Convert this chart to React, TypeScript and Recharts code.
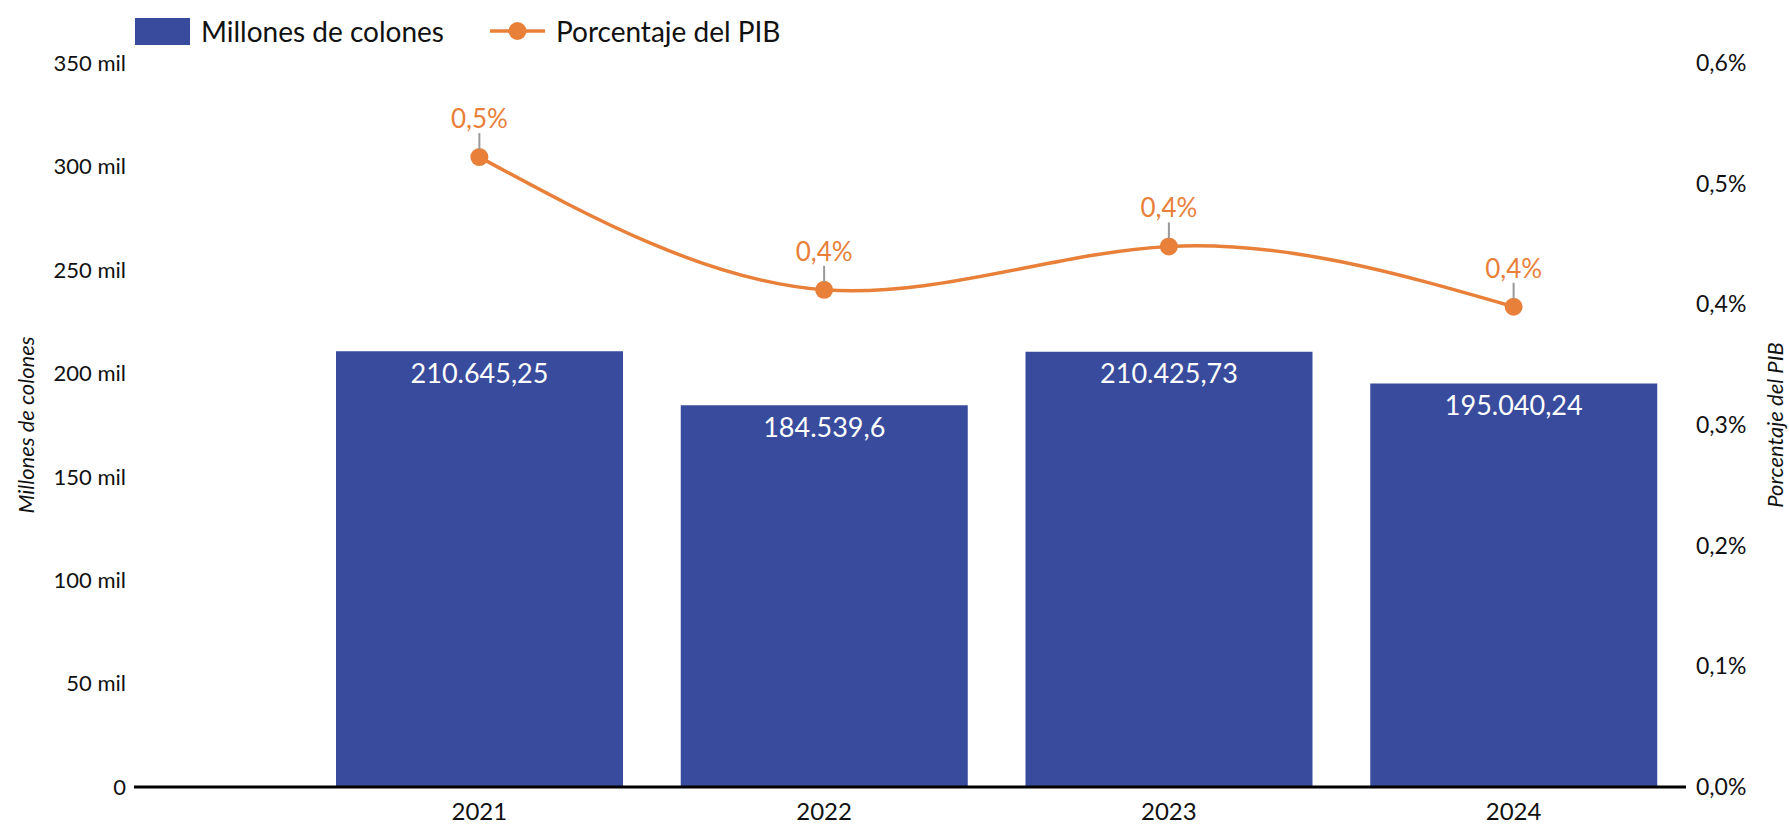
import React from "react";
import {
  ComposedChart,
  Bar,
  Line,
  XAxis,
  YAxis,
  LabelList,
} from "recharts";

const years = ["2021", "2022", "2023", "2024"];
const millones = [210645.25, 184539.6, 210425.73, 195040.24];
const millonesLabels = ["210.645,25", "184.539,6", "210.425,73", "195.040,24"];
const pib = [0.522, 0.412, 0.448, 0.398];
const pibLabels = ["0,5%", "0,4%", "0,4%", "0,4%"];
const leftTicks = [0, 50000, 100000, 150000, 200000, 250000, 300000, 350000];
const rightTicks = [0, 0.1, 0.2, 0.3, 0.4, 0.5, 0.6];

const BLUE = "#384B9C";
const ORANGE = "#E8803A";
const FONT = "Lato, 'Open Sans', sans-serif";

const data = years.map((year, i) => ({
  year,
  millones: millones[i],
  millonesLabel: millonesLabels[i],
  pib: pib[i],
  pibLabel: pibLabels[i],
}));

const fmtLeft = (v: number) => (v === 0 ? "0" : `${v / 1000} mil`);
const fmtRight = (v: number) => `${v.toFixed(1).replace(".", ",")}%`;

// white value text just inside the top of each bar
const BarValue = (props: any) => {
  const { x, y, width, value } = props;
  return (
    <text
      x={x + width / 2}
      y={y + 21}
      textAnchor="middle"
      dominantBaseline="central"
      fill="#fff"
      fontSize={27}
      fontFamily={FONT}
    >
      {value}
    </text>
  );
};

// orange label above the point with a small gray leader
const PointValue = (props: any) => {
  const { x, y, value } = props;
  return (
    <g>
      <line x1={x} x2={x} y1={y - 8} y2={y - 24} stroke="#999" strokeWidth={2} />
      <text
        x={x}
        y={y - 39}
        textAnchor="middle"
        dominantBaseline="central"
        fill={ORANGE}
        fontSize={26}
        fontFamily={FONT}
      >
        {value}
      </text>
    </g>
  );
};

// rotated axis titles
const AxisTitle = (props: any) => {
  const { viewBox, value, dx } = props;
  const cx = viewBox.x + dx;
  const cy = viewBox.y + viewBox.height / 2;
  return (
    <text
      x={cx}
      y={cy}
      transform={`rotate(-90 ${cx} ${cy})`}
      textAnchor="middle"
      dominantBaseline="central"
      fontStyle="italic"
      fontSize={22}
      fontFamily={FONT}
      fill="#111"
    >
      {value}
    </text>
  );
};

const App = () => {
  return (
    <div style={{ position: "absolute", left: 0, top: 0, width: 1789, height: 827, background: "#fff" }}>
      <div
        style={{
          position: "absolute",
          left: 135,
          top: 14,
          display: "flex",
          alignItems: "center",
          fontFamily: FONT,
          fontSize: 28,
          color: "#111",
        }}
      >
        <div style={{ width: 55, height: 27, background: BLUE, marginRight: 11 }} />
        <span style={{ marginRight: 46 }}>Millones de colones</span>
        <svg width={55} height={24} style={{ marginRight: 11 }}>
          <line x1={0} x2={55} y1={12} y2={12} stroke={ORANGE} strokeWidth={3.5} />
          <circle cx={27.5} cy={12} r={9} fill={ORANGE} />
        </svg>
        <span>Porcentaje del PIB</span>
      </div>
      <ComposedChart
        width={1789}
        height={827}
        data={data}
        margin={{ top: 63, right: 0, bottom: 0, left: 0 }}
      >
        <XAxis
          dataKey="year"
          height={40}
          padding={{ left: 173, right: 0 }}
          axisLine={{ stroke: "#000", strokeWidth: 3 }}
          tickLine={false}
          tick={{ fill: "#111", fontSize: 24, fontFamily: FONT }}
          tickMargin={10}
        />
        <YAxis
          yAxisId="left"
          width={134}
          domain={[0, 350000]}
          ticks={leftTicks}
          tickFormatter={fmtLeft}
          axisLine={false}
          tickLine={false}
          tick={{ fill: "#111", fontSize: 22, fontFamily: FONT }}
          tickMargin={2}
          label={<AxisTitle value="Millones de colones" dx={25} />}
        />
        <YAxis
          yAxisId="right"
          orientation="right"
          width={103}
          domain={[0, 0.6]}
          ticks={rightTicks}
          tickFormatter={fmtRight}
          axisLine={false}
          tickLine={false}
          tick={{ fill: "#111", fontSize: 23, fontFamily: FONT, textAnchor: "start" }}
          tickMargin={4}
          label={<AxisTitle value="Porcentaje del PIB" dx={88} />}
        />
        <Bar yAxisId="left" dataKey="millones" fill={BLUE} barSize={287} isAnimationActive={false}>
          <LabelList dataKey="millonesLabel" content={<BarValue />} />
        </Bar>
        <Line
          yAxisId="right"
          type="natural"
          dataKey="pib"
          stroke={ORANGE}
          strokeWidth={3.5}
          dot={{ r: 9, fill: ORANGE, stroke: ORANGE, strokeWidth: 0 }}
          isAnimationActive={false}
        >
          <LabelList dataKey="pibLabel" content={<PointValue />} />
        </Line>
      </ComposedChart>
    </div>
  );
};

export default App;
